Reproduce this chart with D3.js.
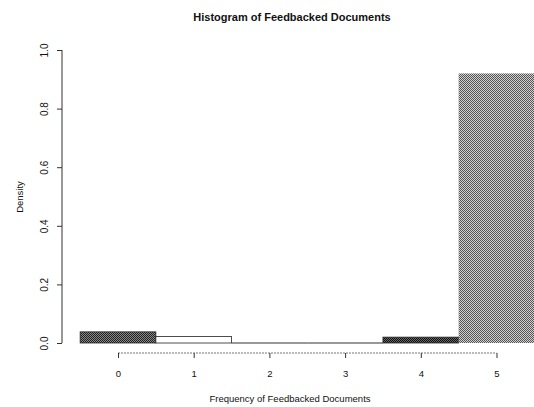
<!DOCTYPE html>
<html>
<head>
<meta charset="utf-8">
<script src="https://cdn.jsdelivr.net/npm/d3@7"></script>
<style>
  body { margin: 0; background: #fff; }
  text { font-family: "Liberation Sans", Arial, sans-serif; fill: #111; }
</style>
</head>
<body>
<script>
// Histogram data
var categories = [0, 1, 2, 3, 4, 5],
    densities  = [0.038, 0.022, 0, 0, 0.02, 0.92],
    yTicks     = [0, 0.2, 0.4, 0.6, 0.8, 1.0],
    xTicks     = [0, 1, 2, 3, 4, 5];

var width  = 534,
    height = 407;

// Scales
var xScale = d3.scaleLinear().domain([0, 5]).range([118, 496.5]);
var yScale = d3.scaleLinear().domain([0, 1]).range([343, 50]);

var svg = d3.select('body').append('svg')
    .attr('width', width)
    .attr('height', height);

// Dithered fills like the scanned figure
var defs = svg.append('defs');
function checker(id, a, b) {
    var p = defs.append('pattern')
        .attr('id', id)
        .attr('width', 2).attr('height', 2)
        .attr('patternUnits', 'userSpaceOnUse');
    p.append('rect').attr('width', 2).attr('height', 2).attr('fill', b);
    p.append('rect').attr('width', 1).attr('height', 1).attr('fill', a);
    p.append('rect').attr('x', 1).attr('y', 1).attr('width', 1).attr('height', 1).attr('fill', a);
}
checker('dark', '#222', '#888');
checker('mid', '#555', '#d0d0d0');
checker('darker', '#111', '#666');

var fills = ['url(#dark)', '#fff', '#fff', '#fff', 'url(#darker)', 'url(#mid)'];

// Bars
var bars = svg.append('g');
bars.selectAll('rect')
    .data(categories)
    .enter()
    .append('rect')
    .attr('x', function(d) { return xScale(d - 0.5); })
    .attr('width', function(d) { return xScale(d + 0.5) - xScale(d - 0.5); })
    .attr('y', function(d, i) { return yScale(densities[i]); })
    .attr('height', function(d, i) { return yScale(0) - yScale(densities[i]); })
    .style('fill', function(d, i) { return fills[i]; })
    .style('stroke', function(d, i) { return densities[i] > 0.1 ? 'none' : '#222'; })
    .style('stroke-width', 0.8);

// Empty bins still show as a flat line
bars.selectAll('line')
    .data(categories.filter(function(d, i) { return densities[i] === 0; }))
    .enter()
    .append('line')
    .attr('x1', function(d) { return xScale(d - 0.5); })
    .attr('x2', function(d) { return xScale(d + 0.5); })
    .attr('y1', yScale(0))
    .attr('y2', yScale(0))
    .style('stroke', '#333')
    .style('stroke-width', 1);

// Y axis
var yAxis = d3.axisLeft(yScale)
    .tickValues(yTicks)
    .tickSize(5)
    .tickPadding(8)
    .tickFormat(d3.format('.1f'));

var gy = svg.append('g')
    .attr('transform', 'translate(62,0)')
    .call(yAxis);
gy.select('.domain').attr('stroke', '#333').attr('d', 'M0,' + yScale(1) + 'V' + yScale(0));
gy.selectAll('.tick line').attr('stroke', '#333');
gy.selectAll('.tick text')
    .attr('transform', 'rotate(-90)')
    .attr('x', 0)
    .attr('y', -14)
    .attr('dy', 0)
    .style('text-anchor', 'middle')
    .style('font-size', '10px');

// X axis
var xAxis = d3.axisBottom(xScale)
    .tickValues(xTicks)
    .tickSize(5)
    .tickPadding(12)
    .tickFormat(d3.format('d'));

var gx = svg.append('g')
    .attr('transform', 'translate(0,353)')
    .call(xAxis);
gx.select('.domain').attr('stroke', '#777').attr('stroke-dasharray', '2,1')
    .attr('d', 'M' + xScale(0) + ',0H' + xScale(5));
gx.selectAll('.tick line').attr('stroke', '#333');
gx.selectAll('.tick text').style('font-size', '9.5px');

// Titles
svg.append('text')
    .attr('x', 292)
    .attr('y', 21)
    .style('text-anchor', 'middle')
    .style('font-size', '11px')
    .style('font-weight', 'bold')
    .text('Histogram of Feedbacked Documents');

svg.append('text')
    .attr('x', 290)
    .attr('y', 402)
    .style('text-anchor', 'middle')
    .style('font-size', '9.5px')
    .text('Frequency of Feedbacked Documents');

svg.append('text')
    .attr('transform', 'translate(23,197) rotate(-90)')
    .style('text-anchor', 'middle')
    .style('font-size', '9.5px')
    .text('Density');
</script>
</body>
</html>
